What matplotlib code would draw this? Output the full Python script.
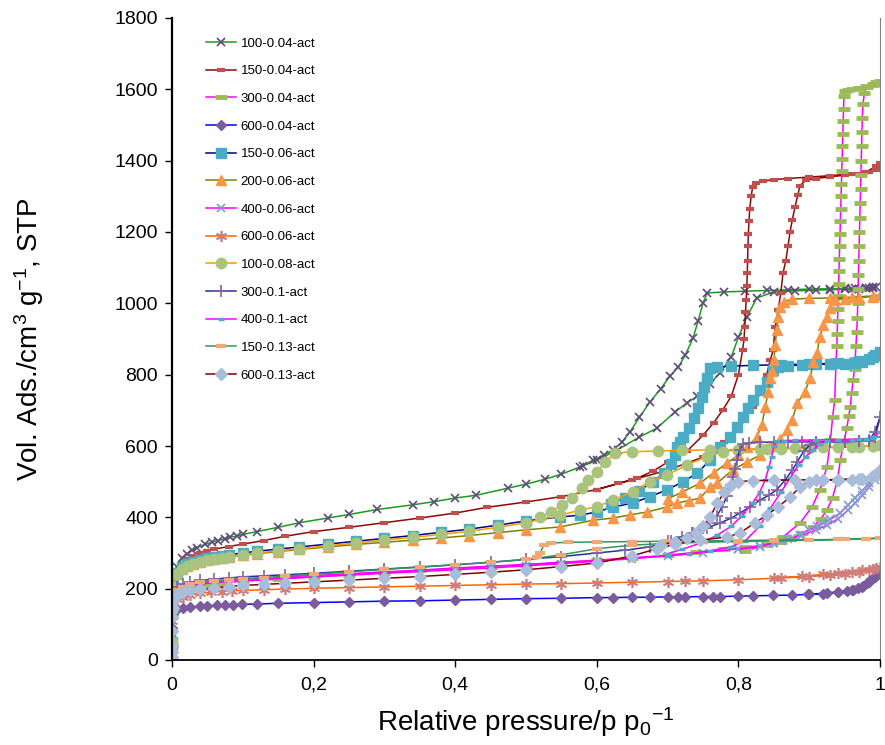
import matplotlib
matplotlib.use("Agg")
import matplotlib.pyplot as plt

plt.rcParams['font.family'] = ['Liberation Sans', 'DejaVu Sans']
plt.rcParams['mathtext.fontset'] = 'custom'
plt.rcParams['mathtext.rm'] = 'Liberation Sans'
plt.rcParams['mathtext.it'] = 'Liberation Sans:italic'
plt.rcParams['mathtext.bf'] = 'Liberation Sans:bold'

# ---------------- data (relative pressure p/p0, volume adsorbed cm3/g STP) ----------------
series_names = ['100-0.04-act', '150-0.04-act', '300-0.04-act', '600-0.04-act', '150-0.06-act',
                '200-0.06-act', '400-0.06-act', '600-0.06-act', '100-0.08-act', '300-0.1-act',
                '400-0.1-act', '150-0.13-act', '600-0.13-act']

x_ticks = [0, 0.2, 0.4, 0.6, 0.8, 1.0]
x_tick_labels = ['0', '0,2', '0,4', '0,6', '0,8', '1']
y_ticks = [0, 200, 400, 600, 800, 1000, 1200, 1400, 1600, 1800]

# 100-0.04-act
p_100_004_ads = [0.0001, 0.0005, 0.002, 0.007, 0.014, 0.021, 0.028, 0.035, 0.047, 0.056, 0.065, 0.075, 0.082, 0.092, 0.10, 0.12, 0.15, 0.18, 0.22, 0.25, 0.29, 0.34, 0.37, 0.40, 0.43, 0.475, 0.50, 0.527, 0.55, 0.576, 0.60, 0.63, 0.66, 0.685, 0.71, 0.727, 0.742, 0.76, 0.774, 0.79, 0.80, 0.812, 0.826, 0.85, 0.88, 0.91, 0.93, 0.95, 0.96, 0.97, 0.98, 0.985, 0.99, 0.995]
v_100_004_ads = [60, 150, 220, 262, 285, 298, 308, 315, 324, 330, 335, 340, 344, 348, 352, 360, 372, 385, 398, 408, 422, 435, 444, 454, 462, 482, 493, 507, 521, 541, 560, 590, 625, 650, 695, 720, 740, 775, 805, 850, 905, 962, 1015, 1032, 1035, 1037, 1038, 1039, 1040, 1041, 1042, 1043, 1044, 1046]
p_100_004_des = [0.99, 0.98, 0.965, 0.95, 0.93, 0.9, 0.87, 0.84, 0.81, 0.78, 0.756, 0.75, 0.743, 0.736, 0.725, 0.715, 0.703, 0.69, 0.675, 0.66, 0.647, 0.635, 0.623, 0.61, 0.595, 0.58]
v_100_004_des = [1045, 1044, 1043, 1042, 1041, 1040, 1038, 1036, 1034, 1032, 1029, 1001, 950, 903, 855, 821, 795, 760, 723, 680, 640, 610, 589, 575, 560, 545]

# 150-0.04-act
p_150_004_ads = [0.0001, 0.0005, 0.002, 0.007, 0.014, 0.021, 0.03, 0.04, 0.05, 0.06, 0.08, 0.10, 0.13, 0.16, 0.20, 0.25, 0.30, 0.35, 0.40, 0.445, 0.50, 0.55, 0.60, 0.65, 0.70, 0.75, 0.78, 0.80, 0.82, 0.831, 0.84, 0.845, 0.849, 0.852, 0.856, 0.86, 0.863, 0.867, 0.87, 0.873, 0.876, 0.88, 0.884, 0.887, 0.895, 0.91, 0.93, 0.95, 0.97, 0.985, 0.995, 1.0]
v_150_004_ads = [50, 130, 200, 245, 268, 282, 292, 300, 306, 311, 318, 325, 335, 347, 360, 372, 385, 398, 412, 428, 443, 458, 478, 505, 532, 569, 610, 645, 710, 748, 800, 841, 869, 934, 980, 1030, 1085, 1120, 1160, 1200, 1233, 1270, 1305, 1330, 1345, 1350, 1355, 1359, 1363, 1367, 1375, 1393]
p_150_004_des = [0.995, 0.98, 0.96, 0.93, 0.9, 0.87, 0.85, 0.835, 0.825, 0.82, 0.818, 0.816, 0.815, 0.814, 0.8135, 0.813, 0.8125, 0.812, 0.811, 0.81, 0.809, 0.808, 0.806, 0.80, 0.79, 0.778, 0.765, 0.75, 0.727, 0.70, 0.68, 0.657, 0.63, 0.60]
v_150_004_des = [1385, 1368, 1363, 1358, 1354, 1350, 1347, 1343, 1338, 1325, 1300, 1265, 1230, 1195, 1160, 1120, 1085, 1050, 1010, 975, 935, 900, 870, 800, 740, 701, 665, 630, 585, 555, 530, 510, 495, 478]

# 300-0.04-act
p_300_004_ads = [0.0001, 0.0005, 0.002, 0.007, 0.014, 0.021, 0.03, 0.04, 0.05, 0.07, 0.1, 0.15, 0.2, 0.25, 0.3, 0.35, 0.4, 0.45, 0.5, 0.55, 0.6, 0.65, 0.7, 0.74, 0.78, 0.81, 0.84, 0.86, 0.873, 0.89, 0.906, 0.916, 0.925, 0.933, 0.94, 0.944, 0.949, 0.953, 0.956, 0.958, 0.96, 0.962, 0.964, 0.965, 0.966, 0.967, 0.968, 0.9685, 0.969, 0.9695, 0.97, 0.9705, 0.971, 0.9715, 0.972, 0.9725, 0.973, 0.9735, 0.974, 0.9745, 0.975, 0.976, 0.978, 0.981, 0.99, 0.995, 1.0]
v_300_004_ads = [40, 120, 180, 197, 203, 207, 210, 212, 214, 217, 221, 227, 233, 239, 245, 251, 256, 262, 267, 273, 279, 286, 294, 302, 310, 316, 322, 330, 338, 355, 373, 395, 420, 455, 505, 561, 610, 650, 685, 709, 750, 785, 815, 845, 880, 920, 960, 1000, 1040, 1080, 1120, 1160, 1200, 1240, 1280, 1320, 1360, 1400, 1440, 1480, 1520, 1560, 1590, 1606, 1612, 1616, 1623]
p_300_004_des = [0.995, 0.99, 0.98, 0.97, 0.96, 0.955, 0.951, 0.949, 0.9485, 0.948, 0.9475, 0.947, 0.9465, 0.946, 0.9455, 0.945, 0.9445, 0.944, 0.9435, 0.943, 0.9425, 0.942, 0.9415, 0.941, 0.9405, 0.94, 0.9395, 0.939, 0.938, 0.936, 0.933, 0.93, 0.925, 0.915, 0.904, 0.887, 0.863, 0.84, 0.81]
v_300_004_des = [1620, 1616, 1610, 1605, 1600, 1597, 1594, 1580, 1545, 1510, 1475, 1440, 1405, 1370, 1335, 1300, 1265, 1230, 1195, 1160, 1125, 1090, 1055, 1020, 985, 950, 915, 880, 841, 729, 680, 617, 541, 477, 429, 384, 345, 325, 305]

# 600-0.04-act
p_600_004_ads = [0.0001, 0.0005, 0.002, 0.007, 0.015, 0.025, 0.04, 0.05, 0.063, 0.075, 0.086, 0.099, 0.12, 0.15, 0.2, 0.25, 0.3, 0.35, 0.4, 0.45, 0.5, 0.55, 0.6, 0.623, 0.65, 0.675, 0.7, 0.715, 0.725, 0.75, 0.764, 0.774, 0.8, 0.82, 0.849, 0.876, 0.898, 0.925, 0.941, 0.953, 0.962, 0.969, 0.976, 0.981, 0.986, 0.99, 0.996, 1.0]
v_600_004_ads = [30, 90, 128, 143, 147, 148, 151, 152, 153, 154, 155, 156, 157, 159, 161, 163, 165, 166, 168, 170, 172, 173, 175, 175, 176, 176, 177, 177, 177, 178, 178, 178, 179, 180, 181, 182, 184, 188, 191, 194, 196, 202, 208, 216, 224, 230, 238, 245]
p_600_004_des = [0.993, 0.985, 0.975, 0.96, 0.94, 0.92, 0.9]
v_600_004_des = [234, 220, 206, 196, 190, 186, 184]

# 150-0.06-act
p_150_006_ads = [0.0001, 0.0005, 0.002, 0.007, 0.014, 0.021, 0.03, 0.04, 0.05, 0.06, 0.07, 0.08, 0.1, 0.12, 0.15, 0.18, 0.22, 0.26, 0.3, 0.34, 0.38, 0.42, 0.46, 0.5, 0.548, 0.576, 0.6, 0.623, 0.651, 0.675, 0.699, 0.722, 0.742, 0.76, 0.774, 0.788, 0.798, 0.807, 0.814, 0.821, 0.831, 0.84, 0.849, 0.856, 0.87, 0.89, 0.91, 0.93, 0.95, 0.965, 0.975, 0.985, 0.993, 1.0]
v_150_006_ads = [50, 140, 210, 245, 262, 270, 276, 281, 285, 289, 292, 295, 300, 305, 311, 317, 325, 333, 341, 349, 358, 367, 378, 390, 401, 406, 415, 429, 440, 458, 477, 500, 524, 561, 597, 625, 653, 681, 706, 729, 757, 779, 813, 821, 825, 827, 829, 830, 831, 832, 836, 845, 855, 863]
p_150_006_des = [0.99, 0.97, 0.94, 0.9, 0.86, 0.82, 0.79, 0.77, 0.76, 0.756, 0.752, 0.748, 0.743, 0.737, 0.73, 0.722, 0.718, 0.713, 0.711, 0.705, 0.695, 0.68, 0.66, 0.64, 0.62]
v_150_006_des = [850, 838, 832, 830, 828, 826, 824, 821, 818, 790, 765, 737, 706, 678, 650, 625, 610, 597, 575, 550, 525, 500, 475, 455, 438]

# 200-0.06-act
p_200_006_ads = [0.0001, 0.0005, 0.002, 0.007, 0.014, 0.021, 0.03, 0.04, 0.05, 0.06, 0.07, 0.08, 0.1, 0.12, 0.15, 0.18, 0.22, 0.26, 0.3, 0.34, 0.38, 0.42, 0.46, 0.5, 0.548, 0.595, 0.623, 0.647, 0.671, 0.699, 0.713, 0.73, 0.746, 0.76, 0.77, 0.792, 0.812, 0.831, 0.845, 0.859, 0.868, 0.876, 0.883, 0.894, 0.901, 0.906, 0.911, 0.915, 0.92, 0.925, 0.929, 0.936, 0.95, 0.97, 0.99, 1.0]
v_200_006_ads = [50, 135, 205, 240, 256, 264, 270, 275, 279, 283, 286, 289, 294, 298, 304, 310, 317, 324, 330, 336, 342, 349, 357, 365, 373, 392, 398, 407, 415, 429, 440, 447, 454, 485, 496, 533, 555, 575, 600, 620, 645, 673, 720, 751, 790, 835, 860, 906, 939, 962, 987, 1009, 1013, 1016, 1019, 1023]
p_200_006_des = [0.99, 0.96, 0.93, 0.9, 0.876, 0.865, 0.859, 0.856, 0.854, 0.852, 0.85, 0.848, 0.845, 0.842, 0.838, 0.833, 0.826, 0.812, 0.8, 0.784, 0.765, 0.746, 0.72, 0.7]
v_200_006_des = [1021, 1017, 1015, 1014, 1012, 1005, 990, 962, 925, 883, 841, 810, 790, 751, 709, 659, 625, 597, 575, 552, 525, 496, 470, 452]

# 400-0.06-act
p_400_006_ads = [0.0001, 0.0005, 0.002, 0.007, 0.015, 0.025, 0.04, 0.06, 0.08, 0.1, 0.13, 0.16, 0.2, 0.25, 0.3, 0.35, 0.4, 0.45, 0.5, 0.55, 0.6, 0.65, 0.7, 0.75, 0.8, 0.83, 0.85, 0.87, 0.89, 0.91, 0.925, 0.94, 0.955, 0.965, 0.975, 0.985, 0.993, 1.0]
v_400_006_ads = [40, 120, 175, 195, 203, 208, 213, 217, 220, 223, 226, 229, 233, 238, 243, 248, 253, 258, 264, 270, 277, 284, 292, 301, 312, 320, 328, 338, 350, 365, 378, 395, 420, 440, 462, 485, 505, 520]
p_400_006_des = [0.993, 0.985, 0.975, 0.965, 0.955, 0.944, 0.93, 0.92, 0.911, 0.9, 0.887, 0.875, 0.86, 0.849, 0.83, 0.8]
v_400_006_des = [512, 495, 475, 455, 435, 412, 395, 385, 375, 365, 350, 342, 335, 328, 318, 310]

# 600-0.06-act
p_600_006_ads = [0.0001, 0.0005, 0.002, 0.007, 0.015, 0.025, 0.04, 0.055, 0.07, 0.085, 0.1, 0.13, 0.16, 0.2, 0.25, 0.3, 0.35, 0.4, 0.45, 0.5, 0.55, 0.6, 0.65, 0.7, 0.725, 0.75, 0.8, 0.85, 0.9, 0.93, 0.95, 0.97, 0.985, 0.995, 1.0]
v_600_006_ads = [40, 110, 150, 170, 178, 183, 187, 190, 192, 194, 195, 197, 199, 201, 203, 205, 207, 209, 211, 213, 214, 216, 218, 220, 221, 222, 225, 229, 234, 238, 242, 248, 253, 257, 260]
p_600_006_des = [0.99, 0.975, 0.96, 0.94, 0.92, 0.89, 0.86]
v_600_006_des = [256, 252, 248, 244, 240, 235, 231]

# 100-0.08-act
p_100_008_ads = [0.0001, 0.0005, 0.002, 0.007, 0.014, 0.021, 0.03, 0.04, 0.05, 0.06, 0.07, 0.08, 0.1, 0.12, 0.15, 0.18, 0.22, 0.26, 0.3, 0.34, 0.38, 0.42, 0.46, 0.5, 0.548, 0.576, 0.6, 0.623, 0.651, 0.675, 0.699, 0.727, 0.756, 0.778, 0.8, 0.83, 0.86, 0.9, 0.94, 0.97, 0.99, 1.0]
v_100_008_ads = [50, 140, 205, 240, 255, 263, 270, 276, 280, 284, 287, 290, 295, 300, 306, 312, 320, 328, 336, 344, 352, 361, 372, 385, 406, 420, 430, 448, 472, 500, 518, 547, 570, 584, 589, 591, 592, 594, 596, 598, 600, 603]
p_100_008_des = [0.99, 0.96, 0.92, 0.88, 0.84, 0.8, 0.76, 0.72, 0.687, 0.65, 0.626, 0.612, 0.6, 0.588, 0.579, 0.565, 0.551, 0.535, 0.52]
v_100_008_des = [600, 598, 596, 594, 592, 590, 589, 588, 586, 584, 580, 555, 527, 505, 482, 454, 435, 415, 400]

# 300-0.1-act
p_300_01_ads = [0.0001, 0.0005, 0.002, 0.007, 0.015, 0.025, 0.04, 0.06, 0.08, 0.1, 0.13, 0.16, 0.2, 0.25, 0.3, 0.35, 0.4, 0.45, 0.5, 0.55, 0.6, 0.64, 0.675, 0.705, 0.736, 0.755, 0.774, 0.79, 0.802, 0.817, 0.831, 0.843, 0.854, 0.866, 0.876, 0.883, 0.892, 0.901, 0.91, 0.93, 0.95, 0.97, 0.985, 0.993, 1.0]
v_300_01_ads = [40, 125, 185, 205, 213, 218, 223, 227, 230, 233, 236, 239, 243, 249, 255, 261, 267, 274, 282, 290, 300, 308, 317, 335, 356, 370, 384, 398, 412, 430, 449, 462, 477, 505, 532, 555, 585, 603, 609, 611, 612, 613, 615, 625, 680]
p_300_01_des = [0.993, 0.985, 0.97, 0.95, 0.93, 0.91, 0.89, 0.87, 0.85, 0.83, 0.815, 0.807, 0.802, 0.798, 0.795, 0.792, 0.789, 0.784, 0.777, 0.77, 0.76, 0.75, 0.735, 0.72, 0.70]
v_300_01_des = [640, 618, 614, 613, 613, 612, 612, 611, 611, 610, 609, 605, 590, 561, 535, 513, 490, 460, 430, 405, 385, 370, 356, 345, 335]

# 400-0.1-act
p_400_01_ads = [0.0001, 0.0005, 0.002, 0.007, 0.015, 0.025, 0.04, 0.06, 0.08, 0.1, 0.13, 0.16, 0.2, 0.25, 0.3, 0.35, 0.4, 0.45, 0.5, 0.55, 0.6, 0.65, 0.7, 0.73, 0.76, 0.79, 0.81, 0.83, 0.845, 0.86, 0.873, 0.885, 0.895, 0.905, 0.915, 0.925, 0.94, 0.96, 0.98, 0.99, 1.0]
v_400_01_ads = [40, 120, 180, 200, 208, 213, 218, 221, 224, 227, 230, 233, 237, 242, 247, 252, 258, 263, 268, 274, 280, 286, 292, 298, 306, 318, 335, 375, 425, 470, 510, 548, 570, 588, 606, 614, 617, 618, 619, 625, 640]
p_400_01_des = [0.99, 0.97, 0.94, 0.91, 0.88, 0.865, 0.855, 0.85, 0.847, 0.843, 0.838, 0.83, 0.82, 0.805, 0.79, 0.77, 0.75, 0.72, 0.7]
v_400_01_des = [622, 619, 618, 617, 616, 615, 614, 600, 570, 540, 505, 470, 440, 405, 375, 350, 330, 310, 298]

# 150-0.13-act
p_150_013_ads = [0.0001, 0.0005, 0.002, 0.007, 0.015, 0.025, 0.04, 0.06, 0.08, 0.1, 0.13, 0.16, 0.2, 0.25, 0.3, 0.35, 0.4, 0.45, 0.5, 0.55, 0.6, 0.65, 0.7, 0.75, 0.8, 0.85, 0.9, 0.95, 0.98, 1.0]
v_150_013_ads = [40, 120, 170, 195, 205, 212, 218, 222, 225, 228, 231, 235, 240, 247, 254, 260, 267, 274, 282, 295, 312, 322, 327, 330, 332, 334, 336, 338, 339, 342]
p_150_013_des = [0.98, 0.94, 0.9, 0.85, 0.8, 0.75, 0.7, 0.65, 0.6, 0.56, 0.535, 0.525, 0.52, 0.515]
v_150_013_des = [340, 338, 337, 336, 335, 334, 333, 332, 331, 330, 328, 322, 300, 290]

# 600-0.13-act
p_600_013_ads = [0.00001, 0.00003, 0.0001, 0.0003, 0.0005, 0.001, 0.002, 0.007, 0.015, 0.025, 0.04, 0.06, 0.08, 0.1, 0.13, 0.16, 0.2, 0.25, 0.3, 0.35, 0.4, 0.45, 0.5, 0.55, 0.6, 0.65, 0.685, 0.71, 0.746, 0.784, 0.802, 0.823, 0.84, 0.856, 0.873, 0.887, 0.9, 0.92, 0.94, 0.96, 0.975, 0.988, 0.995, 1.0]
v_600_013_ads = [8, 22, 40, 80, 120, 145, 165, 183, 190, 195, 199, 203, 206, 209, 212, 215, 219, 224, 229, 234, 240, 246, 253, 262, 272, 292, 312, 325, 336, 345, 356, 384, 406, 429, 457, 485, 500, 504, 505, 506, 508, 512, 520, 533]
p_600_013_des = [0.99, 0.97, 0.94, 0.91, 0.88, 0.85, 0.82, 0.8, 0.79, 0.78, 0.77, 0.76, 0.75, 0.74, 0.727, 0.71, 0.69]
v_600_013_des = [515, 508, 506, 505, 505, 504, 503, 500, 490, 470, 440, 400, 375, 355, 342, 332, 322]

# ---------------- styles ----------------
styles = [
    dict(color='#1E9A1E', marker='x', mfc='#604A7B', mec='#604A7B', ms=6, mew=1.2),
    dict(color='#8B0A0A', marker='_', mfc='#C0504D', mec='#C0504D', ms=6, mew=3),
    dict(color='#FF00FF', marker='_', mfc='#9BBB59', mec='#9BBB59', ms=8, mew=3.5),
    dict(color='#0000FF', marker='D', mfc='#7A5C9E', mec='#7A5C9E', ms=5),
    dict(color='#000080', marker='s', mfc='#4BACC6', mec='#4BACC6', ms=7),
    dict(color='#808000', marker='^', mfc='#F79646', mec='#F79646', ms=7.5),
    dict(color='#FF00FF', marker='x', mfc='#7F9FD0', mec='#7F9FD0', ms=6, mew=1.2),
    dict(color='#FF6600', marker=(6, 2, 0), mfc='#D07C7A', mec='#D07C7A', ms=8, mew=1.2),
    dict(color='#FF9900', marker='o', mfc='#A9C47F', mec='#A9C47F', ms=7.5),
    dict(color='#2E2E9A', marker='+', mfc='#8064A2', mec='#8064A2', ms=8, mew=1.2),
    dict(color='#FF00FF', marker='_', mfc='#4BACC6', mec='#4BACC6', ms=4, mew=2.5),
    dict(color='#2E9A5E', marker='_', mfc='#F4A876', mec='#F4A876', ms=7, mew=3),
    dict(color='#800000', marker='D', mfc='#A9BDDB', mec='#A9BDDB', ms=6),
]

data = [
    (p_100_004_ads, v_100_004_ads, p_100_004_des, v_100_004_des),
    (p_150_004_ads, v_150_004_ads, p_150_004_des, v_150_004_des),
    (p_300_004_ads, v_300_004_ads, p_300_004_des, v_300_004_des),
    (p_600_004_ads, v_600_004_ads, p_600_004_des, v_600_004_des),
    (p_150_006_ads, v_150_006_ads, p_150_006_des, v_150_006_des),
    (p_200_006_ads, v_200_006_ads, p_200_006_des, v_200_006_des),
    (p_400_006_ads, v_400_006_ads, p_400_006_des, v_400_006_des),
    (p_600_006_ads, v_600_006_ads, p_600_006_des, v_600_006_des),
    (p_100_008_ads, v_100_008_ads, p_100_008_des, v_100_008_des),
    (p_300_01_ads, v_300_01_ads, p_300_01_des, v_300_01_des),
    (p_400_01_ads, v_400_01_ads, p_400_01_des, v_400_01_des),
    (p_150_013_ads, v_150_013_ads, p_150_013_des, v_150_013_des),
    (p_600_013_ads, v_600_013_ads, p_600_013_des, v_600_013_des),
]

fig = plt.figure(figsize=(8.85, 7.45), dpi=100)
ax = fig.add_axes([172 / 885, 1 - 660 / 745, 708 / 885, 642 / 745])

for name, (pa, va, pd_, vd), st in zip(series_names, data, styles):
    ax.plot(list(pa) + list(pd_), list(va) + list(vd), label=name, lw=1.1, **st)

ax.set_xlim(0, 1)
ax.set_ylim(0, 1800)
ax.set_xticks(x_ticks)
ax.set_xticklabels(x_tick_labels)
ax.set_yticks(y_ticks)
ax.tick_params(direction='out', length=5, width=1, labelsize=14, colors='black', pad=5)
ax.tick_params(axis='x', pad=7)
ax.spines['top'].set_visible(False)
ax.spines['right'].set_color('#808080')
ax.spines['left'].set_linewidth(1.6)
ax.spines['bottom'].set_linewidth(1.3)

ax.set_ylabel(r'Vol. Ads./cm$^{3}$ g$^{-1}$, STP', fontsize=20)
ax.yaxis.set_label_coords(-0.178, 0.5)
ax.set_xlabel(r'Relative pressure/p p$_{0}$$^{-1}$', fontsize=20, labelpad=8)

leg = ax.legend(loc='upper left', bbox_to_anchor=(0.04, 0.978), frameon=False,
                fontsize=9.5, numpoints=1, handlelength=2.3, handletextpad=0.35,
                labelspacing=1.17, borderaxespad=0)

fig.savefig('out.png', dpi=100)
